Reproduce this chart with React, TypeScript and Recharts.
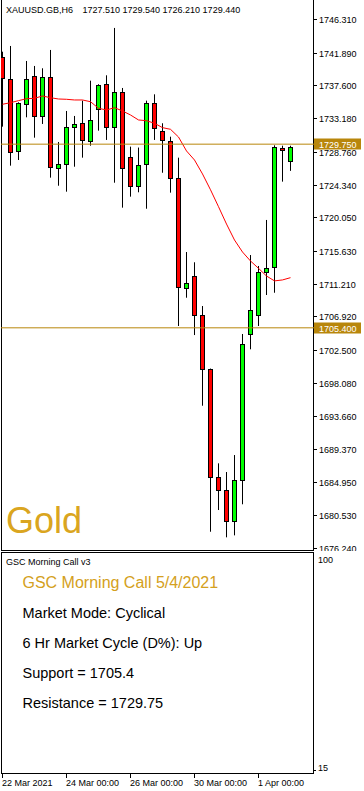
import React from "react";
import { ComposedChart, Bar, Line, XAxis, YAxis, ReferenceLine } from "recharts";

// XAUUSD H6 candles, 22 Mar 2021 -> 2 Apr 2021
const candleTimes = [
  "22 Mar 00:00", "22 Mar 06:00", "22 Mar 12:00", "22 Mar 18:00",
  "23 Mar 00:00", "23 Mar 06:00", "23 Mar 12:00", "23 Mar 18:00",
  "24 Mar 00:00", "24 Mar 06:00", "24 Mar 12:00", "24 Mar 18:00",
  "25 Mar 00:00", "25 Mar 06:00", "25 Mar 12:00", "25 Mar 18:00",
  "26 Mar 00:00", "26 Mar 06:00", "26 Mar 12:00", "26 Mar 18:00",
  "29 Mar 00:00", "29 Mar 06:00", "29 Mar 12:00", "29 Mar 18:00",
  "30 Mar 00:00", "30 Mar 06:00", "30 Mar 12:00", "30 Mar 18:00",
  "31 Mar 00:00", "31 Mar 06:00", "31 Mar 12:00", "31 Mar 18:00",
  "1 Apr 00:00", "1 Apr 06:00", "1 Apr 12:00", "1 Apr 18:00",
  "2 Apr 00:00",
];
const openPrices = [
  1741.27, 1738.39, 1728.81, 1735.04, 1738.75, 1733.53, 1738.62, 1726.63,
  1727.16, 1732.07, 1732.56, 1730.13, 1734.41, 1737.69, 1731.99, 1736.63,
  1728.01, 1724.2, 1727.08, 1735.17, 1731.54, 1730.21, 1725.22, 1710.68,
  1712.23, 1707.1, 1699.9, 1685.62, 1683.85, 1679.74, 1685.18, 1704.54,
  1707.06, 1712.8, 1713.42, 1729.2, 1727.51,
];
const highPrices = [
  1742.01, 1742.77, 1735.3, 1740.78, 1740.12, 1739.81, 1742.24, 1730.04,
  1734.15, 1733.49, 1735.52, 1738.17, 1737.7, 1738.88, 1745.16, 1737.2,
  1729.42, 1729.3, 1735.52, 1736.36, 1732.52, 1730.74, 1727.96, 1715.45,
  1714.09, 1708.29, 1700.0, 1687.43, 1686.28, 1688.53, 1704.58, 1715.05,
  1713.6, 1719.7, 1729.6, 1729.55, 1729.54,
];
const lowPrices = [
  1732.07, 1726.9, 1727.65, 1733.31, 1730.61, 1732.43, 1725.31, 1724.24,
  1723.45, 1726.76, 1727.96, 1729.55, 1731.54, 1730.31, 1724.64, 1721.33,
  1722.79, 1723.37, 1721.19, 1730.31, 1725.96, 1723.32, 1705.64, 1709.39,
  1704.44, 1695.07, 1678.36, 1681.24, 1677.62, 1677.88, 1682.0, 1702.55,
  1705.64, 1709.75, 1710.05, 1724.78, 1726.21,
];
const closePrices = [
  1738.49, 1728.75, 1735.17, 1738.39, 1733.53, 1738.62, 1726.68, 1727.08,
  1732.07, 1732.43, 1730.27, 1732.96, 1737.56, 1731.99, 1736.63, 1726.55,
  1724.2, 1726.95, 1735.17, 1731.86, 1730.27, 1725.22, 1710.81, 1711.3,
  1707.06, 1699.9, 1685.62, 1683.85, 1679.74, 1685.18, 1703.26, 1707.76,
  1712.76, 1713.33, 1729.42, 1728.94, 1729.44,
];
const maValues = [
  1735.04, 1735.25, 1735.52, 1735.78, 1735.83, 1736.14, 1735.91, 1735.74,
  1735.7, 1735.61, 1735.61, 1735.38, 1734.51, 1734.28, 1734.59, 1734.15,
  1733.62, 1732.96, 1732.86, 1732.52, 1731.94, 1731.72, 1730.7, 1728.85,
  1727.65, 1725.8, 1723.7, 1721.46, 1719.16, 1717.04, 1715.45, 1714.26,
  1713.29, 1712.27, 1711.62, 1711.75, 1712.05,
];

const priceTicks = [
  1746.31, 1741.89, 1737.6, 1733.18, 1728.76, 1724.34, 1720.05, 1715.63,
  1711.21, 1706.92, 1702.5, 1698.08, 1693.66, 1689.37, 1684.95, 1680.53,
  1676.24,
];
const supportLevel = 1705.4;
const resistanceLevel = 1729.75;

const timeTickIndex = [0, 8, 16, 24, 32];
const timeTickLabels = ["22 Mar 2021", "24 Mar 00:00", "26 Mar 00:00", "30 Mar 00:00", "1 Apr 00:00"];
const oscTicks = [15, 100];

const symbolName = "XAUUSD.GB,H6";
const panelName = "GSC Morning Call v3";
const panelTitle = "GSC Morning Call 5/4/2021";
const panelLines = [
  "Market Mode: Cyclical",
  "6 Hr Market Cycle (D%): Up",
  `Support = ${supportLevel}`,
  `Resistance = ${resistanceLevel}`,
];

const candles = candleTimes.map((time, i) => ({
  i,
  time,
  open: openPrices[i],
  high: highPrices[i],
  low: lowPrices[i],
  close: closePrices[i],
  ma: maValues[i],
}));

const FONT = "'Liberation Sans', Arial, sans-serif";
const LEVEL = "#b8860b";
const X_DOMAIN: [number, number] = [-0.1875, 38.9375];

function Candle(props: any) {
  const { x, y, width, height, payload } = props;
  if (x == null || y == null || !payload) return null;
  const top = Math.min(y, y + height);
  const h = Math.abs(height);
  const { open, high, low, close } = payload;
  const py = (v: number) => (high === low ? top : top + ((high - v) / (high - low)) * h);
  const cx = Math.round(x + width / 2 - 0.5) + 0.5;
  const up = close >= open;
  const bTop = Math.round(py(Math.max(open, close))) + 0.5;
  const bBot = Math.round(py(Math.min(open, close))) + 0.5;
  return (
    <g>
      <line x1={cx} x2={cx} y1={top} y2={top + h} stroke="#000" strokeWidth={1} />
      <rect
        x={cx - 2}
        y={bTop}
        width={4}
        height={Math.max(bBot - bTop, 1)}
        fill={up ? "#00ff00" : "#ff0000"}
        stroke="#000"
        strokeWidth={1}
      />
    </g>
  );
}

function PriceTick(props: any) {
  const { x, y, payload } = props;
  const v = payload.value;
  const yy = Math.round(y) + 0.5;
  if (v === supportLevel || v === resistanceLevel) {
    return (
      <g>
        <rect x={x} y={yy - 6} width={47} height={11} fill={LEVEL} />
        <text x={x + 5} y={yy} dy="0.35em" fontSize={9} fontFamily={FONT} fill="#fff">
          {v.toFixed(3)}
        </text>
      </g>
    );
  }
  return (
    <g>
      <line x1={x - 1} x2={x + 3} y1={yy} y2={yy} stroke="#000" />
      <text x={x + 5} y={yy} dy="0.35em" fontSize={9} fontFamily={FONT} fill="#000">
        {v.toFixed(3)}
      </text>
    </g>
  );
}

function TimeTick(props: any) {
  const { x, y, payload } = props;
  const k = timeTickIndex.indexOf(payload.value);
  const xx = Math.round(x - 0.5) + 0.5;
  return (
    <g>
      <line x1={xx} x2={xx} y1={y} y2={y + 4} stroke="#000" />
      <text x={xx - 0.5} y={y + 12} fontSize={9} fontFamily={FONT} fill="#000">
        {timeTickLabels[k]}
      </text>
    </g>
  );
}

function OscTick(props: any) {
  const { x, y, payload } = props;
  const top = payload.value === 100;
  const ty = top ? y + 8 : y - 6.5;
  return (
    <g>
      {!top && <line x1={x} x2={x + 2} y1={y - 3.5} y2={y - 3.5} stroke="#000" />}
      <text x={x + 4} y={ty} dy="0.35em" fontSize={9} fontFamily={FONT} fill="#000">
        {payload.value}
      </text>
    </g>
  );
}

export default function App() {
  const last = candles[candles.length - 1];
  return (
    <div style={{ position: "absolute", left: 0, top: 0, width: 364, height: 791, background: "#fff" }}>
      <div style={{ position: "absolute", left: 1, top: 0, width: 313, height: 551, boxSizing: "border-box", borderLeft: "1px solid #000", borderRight: "1px solid #000", borderBottom: "1px solid #000" }} />
      <div style={{ position: "absolute", left: 1, top: 552, width: 313, height: 222, boxSizing: "border-box", border: "1px solid #000" }} />

      <div style={{ position: "absolute", left: 0, top: 0 }}>
        <ComposedChart width={364} height={551} data={candles} margin={{ top: 2, right: 0, bottom: 1, left: 1 }}>
          <XAxis dataKey="i" type="number" domain={X_DOMAIN} allowDataOverflow hide />
          <YAxis
            orientation="right"
            width={50}
            domain={[1675.94, 1748.6]}
            allowDataOverflow
            ticks={[...priceTicks, resistanceLevel, supportLevel]}
            interval={0}
            axisLine={false}
            tickLine={false}
            tickSize={0}
            tickMargin={0}
            tick={<PriceTick />}
          />
          <Bar
            dataKey={(d: any) => [d.low, d.high]}
            barSize={5}
            shape={<Candle />}
            isAnimationActive={false}
          />
          <Line type="linear" dataKey="ma" stroke="#ff0000" strokeWidth={1} dot={false} activeDot={false} isAnimationActive={false} />
          <ReferenceLine y={resistanceLevel} stroke={LEVEL} strokeWidth={1} />
          <ReferenceLine y={supportLevel} stroke={LEVEL} strokeWidth={1} />
        </ComposedChart>
      </div>

      <div style={{ position: "absolute", left: 0, top: 551 }}>
        <ComposedChart width={364} height={240} data={candles} margin={{ top: 1, right: 0, bottom: 0, left: 1 }}>
          <XAxis
            dataKey="i"
            type="number"
            domain={X_DOMAIN}
            allowDataOverflow
            ticks={timeTickIndex}
            interval={0}
            height={17}
            axisLine={false}
            tickLine={false}
            tickSize={0}
            tickMargin={0}
            tick={<TimeTick />}
          />
          <YAxis
            orientation="right"
            width={50}
            domain={[15, 100]}
            allowDataOverflow
            ticks={oscTicks}
            interval={0}
            axisLine={false}
            tickLine={false}
            tickSize={0}
            tickMargin={0}
            tick={<OscTick />}
          />
        </ComposedChart>
      </div>

      <svg width={364} height={791} style={{ position: "absolute", left: 0, top: 0, pointerEvents: "none" }}>
        <text x={6} y={13} fontSize={9} fontFamily={FONT} fill="#000">{symbolName}</text>
        <text x={82.5} y={13} fontSize={9} fontFamily={FONT} fill="#000">
          {[last.open, last.high, last.low, last.close].map((v) => v.toFixed(3)).join(" ")}
        </text>
        <text x={6} y={533} fontSize={36} fontFamily={FONT} fill="#daa520">Gold</text>
        <text x={6} y={565} fontSize={9} fontFamily={FONT} fill="#000">{panelName}</text>
        <text x={22.5} y={588} fontSize={16} fontFamily={FONT} fill="#d4a020">{panelTitle}</text>
        {panelLines.map((t, k) => (
          <text key={t} x={22.5} y={617.5 + k * 30} fontSize={14.5} fontFamily={FONT} fill="#000">{t}</text>
        ))}
      </svg>
    </div>
  );
}
